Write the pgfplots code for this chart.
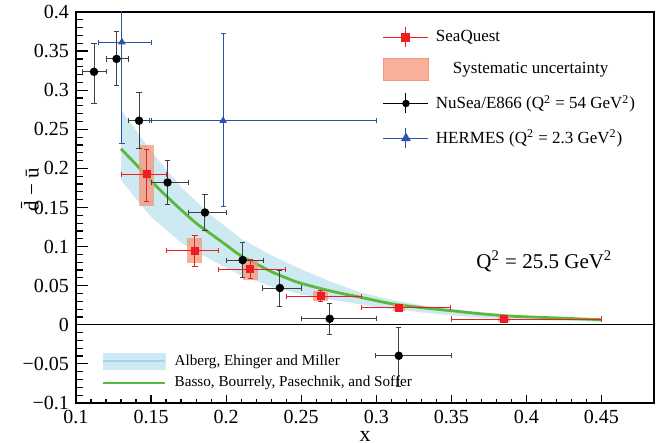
\documentclass[border=0pt]{standalone}
\usepackage{fontspec}
\setmainfont{Liberation Serif}
\usepackage{pgfplots}
\usepackage{pgfplotstable}
\usepgfplotslibrary{fillbetween}
\pgfplotsset{compat=1.18}

\definecolor{sqred}{RGB}{235,30,35}
\definecolor{syscol}{RGB}{245,150,120}
\definecolor{bandcol}{RGB}{205,233,241}
\definecolor{bandline}{RGB}{160,215,232}
\definecolor{bbpsgreen}{RGB}{90,185,60}
\definecolor{hermblue}{RGB}{40,85,170}

% SeaQuest: x y and asymmetric errors
\pgfplotstableread{
x      y       xm     xp     ym     yp
0.1471 0.1927  0.0167 0.0133 0.0350 0.0320
0.1792 0.0950  0.0192 0.0160 0.0204 0.0188
0.2160 0.0712  0.0208 0.0238 0.0115 0.0118
0.2631 0.0366  0.0228 0.0271 0.0068 0.0069
0.3150 0.0221  0.0250 0.0347 0.0030 0.0030
0.3850 0.0073  0.0350 0.0650 0.0025 0.0025
}\seaquest

% NuSea/E866
\pgfplotstableread{
x      y       xm     xp     ym     yp
0.1120 0.3235  0.0075 0.0080 0.0405 0.0365
0.1270 0.3400  0.0070 0.0080 0.0340 0.0350
0.1420 0.2610  0.0072 0.0084 0.0360 0.0360
0.1610 0.1820  0.0110 0.0140 0.0277 0.0277
0.1859 0.1436  0.0111 0.0144 0.0236 0.0234
0.2110 0.0827  0.0110 0.0140 0.0227 0.0223
0.2358 0.0470  0.0113 0.0142 0.0240 0.0230
0.2690 0.0077  0.0190 0.0310 0.0205 0.0193
0.3150 -0.0396 0.0153 0.0350 0.0394 0.0366
}\nusea

% HERMES
\pgfplotstableread{
x      y       xm     xp     ym     yp
0.1306 0.3615  0.0156 0.0194 0.1300 0.1000
0.1980 0.2610  0.0490 0.1020 0.1097 0.1110
}\hermes

% Alberg, Ehinger and Miller band
\pgfplotstableread{
x    up     lo
0.13 0.275  0.185
0.15 0.222  0.138
0.17 0.176  0.105
0.19 0.140  0.083
0.21 0.110  0.063
0.23 0.089  0.049
0.25 0.071  0.039
0.27 0.055  0.032
0.29 0.041  0.026
0.31 0.032  0.020
0.33 0.025  0.016
0.35 0.020  0.012
0.37 0.016  0.009
0.39 0.013  0.007
0.41 0.010  0.006
0.43 0.008  0.005
0.45 0.007  0.004
}\aem

% Basso, Bourrely, Pasechnik, Soffer curve
\pgfplotstableread{
x    y
0.13 0.225
0.14 0.205
0.15 0.184
0.16 0.165
0.17 0.147
0.18 0.130
0.19 0.116
0.20 0.102
0.21 0.088
0.22 0.078
0.23 0.068
0.24 0.060
0.25 0.053
0.27 0.043
0.29 0.035
0.31 0.027
0.33 0.022
0.35 0.018
0.37 0.014
0.39 0.011
0.41 0.0095
0.43 0.008
0.45 0.0065
}\bbps

\pgfplotsset{
  pts/.style={only marks, forget plot,
    error bars/x dir=both, error bars/x explicit,
    error bars/y dir=both, error bars/y explicit,
    error bars/error mark=-,
    error bars/error mark options={rotate=90, line width=0.5pt, mark size=1.3pt}},
  sysbox/.style={fill=syscol, draw=none, fill opacity=0.75, forget plot},
}

\begin{document}
\begin{tikzpicture}
\begin{axis}[
  name=main,
  scale only axis,
  width=289pt, height=195.5pt,
  xmin=0.1, xmax=0.485,
  ymin=-0.1, ymax=0.4,
  axis line style={line width=0.8pt},
  xtick={0.1,0.15,...,0.451},
  xticklabels={0.1,0.15,0.2,0.25,0.3,0.35,0.4,0.45},
  ytick={-0.1,-0.05,0,0.05,0.1,0.15,0.2,0.25,0.3,0.35,0.4},
  yticklabels={−0.1,−0.05,0,0.05,0.1,0.15,0.2,0.25,0.3,0.35,0.4},
  minor tick num=4,
  xtick pos=lower, ytick pos=left,
  tick align=inside,
  x tick style={black, line width=0.6pt, /pgfplots/major tick length=4pt, /pgfplots/minor tick length=2pt},
  y tick style={black, line width=0.6pt, /pgfplots/major tick length=6pt, /pgfplots/minor tick length=3.5pt},
  tick label style={font=\fontsize{10}{11}\selectfont},
  xticklabel style={inner sep=1pt, yshift=-2.3pt},
  xlabel={x},
  xlabel style={font=\fontsize{11}{12}\selectfont, at={(axis description cs:0.5,0)}, anchor=center,
    inner sep=0pt, yshift=-16.5pt},
  ylabel={\=d − \=u},
  ylabel style={font=\fontsize{10.5}{12}\selectfont, at={(axis description cs:-0.0795,0.545)}, anchor=center},
  legend cell align=left,
  legend style={at={(rel axis cs:0.52,0.975)}, anchor=north west, draw=none, fill=none,
    font=\fontsize{8.5}{10}\selectfont, row sep=5pt},
]
% legend images
\addlegendimage{sqred, line width=0.5pt, legend image code/.code={
  \draw (0pt,0pt) -- (22.5pt,0pt);
  \draw (11.25pt,-5pt) -- (11.25pt,5pt);
  \fill (9.25pt,-2pt) rectangle (13.25pt,2pt);}}
\addlegendentry{\hspace*{1.5pt}SeaQuest}
\addlegendimage{legend image code/.code={
  \fill[syscol, fill opacity=0.75] (0pt,-5.5pt) rectangle (22.5pt,5.5pt);}}
\addlegendentry{\hspace*{10pt}Systematic uncertainty}
\addlegendimage{black, line width=0.5pt, legend image code/.code={
  \draw (0pt,0pt) -- (22.5pt,0pt);
  \draw (11.25pt,-5pt) -- (11.25pt,5pt);
  \fill (11.25pt,0pt) circle (1.6pt);}}
\addlegendentry{\hspace*{1.5pt}NuSea/E866 (Q\textsuperscript{2} = 54 GeV\textsuperscript{2})}
\addlegendimage{hermblue, line width=0.5pt, legend image code/.code={
  \draw (0pt,0pt) -- (22.5pt,0pt);
  \draw (11.25pt,-5pt) -- (11.25pt,5pt);
  \fill (11.25pt,2.2pt) -- (9.2pt,-1.3pt) -- (13.3pt,-1.3pt) -- cycle;}}
\addlegendentry{\hspace*{1.5pt}HERMES (Q\textsuperscript{2} = 2.3 GeV\textsuperscript{2})}

% zero line
\addplot[black, line width=0.6pt, forget plot] coordinates {(0.1,0) (0.485,0)};

% AEM band
\addplot[name path=up, draw=none, forget plot] table[x=x, y=up] {\aem};
\addplot[name path=lo, draw=none, forget plot] table[x=x, y=lo] {\aem};
\addplot[bandcol, forget plot] fill between[of=up and lo];

% BBPS curve
\addplot[bbpsgreen, line width=1.4pt, smooth, forget plot] table[x=x, y=y] {\bbps};

% systematic boxes
\addplot[sysbox] coordinates {(0.142,0.152) (0.152,0.152) (0.152,0.230) (0.142,0.230)} -- cycle;
\addplot[sysbox] coordinates {(0.174,0.079) (0.184,0.079) (0.184,0.111) (0.174,0.111)} -- cycle;
\addplot[sysbox] coordinates {(0.211,0.0575) (0.221,0.0575) (0.221,0.082) (0.211,0.082)} -- cycle;
\addplot[sysbox] coordinates {(0.258,0.030) (0.268,0.030) (0.268,0.0426) (0.258,0.0426)} -- cycle;
\addplot[sysbox] coordinates {(0.311,0.017) (0.319,0.017) (0.319,0.0265) (0.311,0.0265)} -- cycle;
\addplot[sysbox] coordinates {(0.381,0.003) (0.389,0.003) (0.389,0.0115) (0.381,0.0115)} -- cycle;

% HERMES
\addplot[pts, hermblue, mark=triangle*, mark size=1.8pt,
  error bars/error bar style={hermblue, line width=0.5pt}]
  table[x=x, y=y, x error minus=xm, x error plus=xp, y error minus=ym, y error plus=yp] {\hermes};
% NuSea/E866
\addplot[pts, black, mark=*, mark size=1.9pt,
  error bars/error bar style={black!75, line width=0.5pt}]
  table[x=x, y=y, x error minus=xm, x error plus=xp, y error minus=ym, y error plus=yp] {\nusea};
% SeaQuest
\addplot[pts, sqred, mark=square*, mark size=1.8pt,
  error bars/error bar style={sqred, line width=0.5pt}]
  table[x=x, y=y, x error minus=xm, x error plus=xp, y error minus=ym, y error plus=yp] {\seaquest};

\node[font=\fontsize{10.5}{12}\selectfont] at (axis cs:0.412,0.0806)
  {Q\textsuperscript{2} = 25.5 GeV\textsuperscript{2}};
\end{axis}

% second legend (theory curves)
\begin{axis}[
  scale only axis, width=289pt, height=195.5pt,
  xmin=0.1, xmax=0.485, ymin=-0.1, ymax=0.4,
  hide axis,
  legend cell align=left,
  legend style={at={(rel axis cs:0.034,0.145)}, anchor=north west, draw=none, fill=none,
    font=\fontsize{7.6}{9}\selectfont, row sep=0pt},
]
\addlegendimage{legend image code/.code={
  \fill[bandcol] (0pt,-4pt) rectangle (31pt,4pt);
  \draw[bandline, line width=1pt] (0pt,0pt) -- (31pt,0pt);}}
\addlegendentry{\hspace*{2pt}Alberg, Ehinger and Miller}
\addlegendimage{legend image code/.code={
  \draw[bbpsgreen, line width=1.3pt] (0pt,0pt) -- (31pt,0pt);}}
\addlegendentry{\hspace*{2pt}Basso, Bourrely, Pasechnik, and Soffer}
\end{axis}

\pgfresetboundingbox
\path ([shift={(-38pt,-20pt)}]main.south west) rectangle ([shift={(3pt,6pt)}]main.north east);
\end{tikzpicture}
\end{document}
